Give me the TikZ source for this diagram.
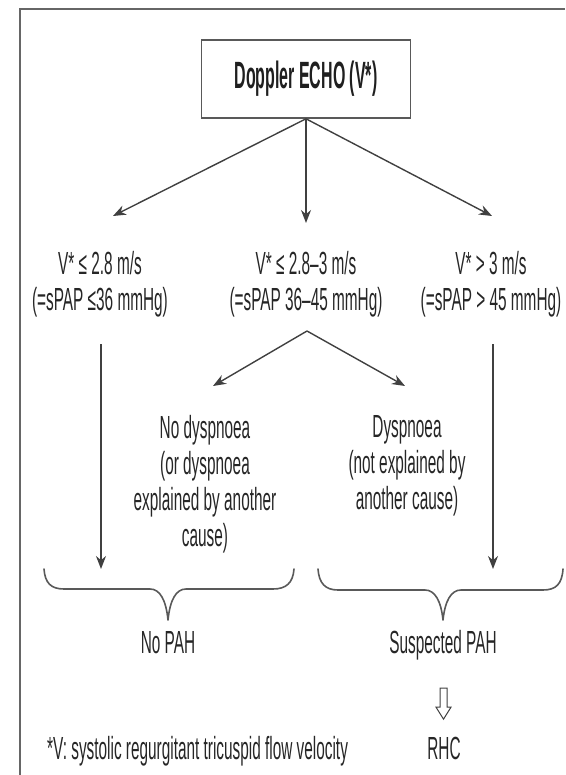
\documentclass[tikz,border=0pt]{standalone}
\usepackage{fontspec}
\setmainfont{Liberation Sans}[FakeStretch=0.48]
\newfontfamily\titlefont{Liberation Sans}[FakeStretch=0.42]
\usetikzlibrary{arrows.meta,calc}

\begin{document}
\begin{tikzpicture}[x=1pt,y=-1pt]
\tikzset{
  titlebox/.style={draw=black!65,line width=1.6pt,minimum width=209pt,minimum height=78pt,inner sep=0pt,text=black!88,font=\titlefont\bfseries\fontsize{38}{42}\selectfont},
  textnode/.style={align=center,inner sep=0pt,text=black!85,font=\fontsize{32}{36}\selectfont},
  flowedge/.style={draw=black!75,line width=1.4pt,-{Stealth[length=13pt,width=10pt]}},
  bracepath/.style={draw=black!65,line width=1.6pt,line cap=round,line join=round},
  hollowarrow/.style={draw=black!75,line width=1pt,fill=white,line join=miter},
  frameline/.style={draw=black!60,line width=2.2pt}
}
\useasboundingbox (0,0) rectangle (565,775);
\draw[frameline] (20,775) -- (20,9) -- (565,9);
% top box and the three velocity classes
\node[titlebox] (n_echo) at (306,79) {Doppler ECHO (V*)};
\node[textnode,anchor=north] (n_low) at (100,251) {V* ≤ 2.8 m/s\\(=sPAP ≤36 mmHg)};
\node[textnode,anchor=north] (n_mid) at (306,251) {V* ≤ 2.8–3 m/s\\(=sPAP 36–45 mmHg)};
\node[textnode,anchor=north] (n_high) at (491,251) {V* > 3 m/s\\(=sPAP > 45 mmHg)};
\coordinate (c_tipL) at (113,216);
\coordinate (c_tipM) at (306,223);
\coordinate (c_tipR) at (492,216);
\draw[flowedge] (n_echo.south) -- (c_tipL);
\draw[flowedge] (n_echo.south) -- (c_tipM);
\draw[flowedge] (n_echo.south) -- (c_tipR);
% middle class split
\node[textnode,anchor=north] (n_nodys) at (205,415) {No dyspnoea\\(or dyspnoea\\explained by another\\cause)};
\node[textnode,anchor=north] (n_dys) at (407,415) {Dyspnoea\\(not explained by\\another cause)};
\coordinate (c_split) at (307,331);
\coordinate (c_tipNo) at (213,386);
\coordinate (c_tipYes) at (405,386);
\draw[flowedge] (c_split) -- (c_tipNo);
\draw[flowedge] (c_split) -- (c_tipYes);
% straight down to the braces
\coordinate (c_lowend) at (101,569);
\coordinate (c_highend) at (493,569);
\draw[flowedge] ([yshift=-27pt]n_low.south -| c_lowend) -- (c_lowend);
\draw[flowedge] ([yshift=-27pt]n_high.south -| c_highend) -- (c_highend);
% braces
\draw[bracepath] (44,569) .. controls (45,583) and (51,589) .. (64,589) -- (150,589)
  .. controls (160,589) and (166,600) .. (168,620)
  .. controls (170,600) and (176,589) .. (186,589) -- (273,589)
  .. controls (286,589) and (293,583) .. (294,569);
\draw[bracepath] (318,569) .. controls (319,583) and (325,590) .. (338,590) -- (425,590)
  .. controls (435,590) and (441,601) .. (443,620)
  .. controls (445,601) and (451,590) .. (461,590) -- (543,590)
  .. controls (556,590) and (562,584) .. (563,569);
% outcomes
\node[textnode,anchor=base] (n_nopah) at (168,653) {No PAH};
\node[textnode,anchor=base] (n_spah) at (443,653) {Suspected PAH};
\node[textnode,anchor=base] (n_rhc) at (444,759) {RHC};
\node[textnode,anchor=base west] (n_note) at (47,759) {*V: systolic regurgitant tricuspid flow velocity};
\path (n_spah.south) -- (n_rhc.north) coordinate[pos=0.5] (c_hmid);
\draw[hollowarrow] ($(c_hmid)+(-3.5,-10)$) -- ($(c_hmid)+(3.5,-10)$) -- ($(c_hmid)+(3.5,9)$)
  -- ($(c_hmid)+(7.5,9)$) -- ($(c_hmid)+(0,21)$) -- ($(c_hmid)+(-7.5,9)$)
  -- ($(c_hmid)+(-3.5,9)$) -- cycle;
\end{tikzpicture}
\end{document}
